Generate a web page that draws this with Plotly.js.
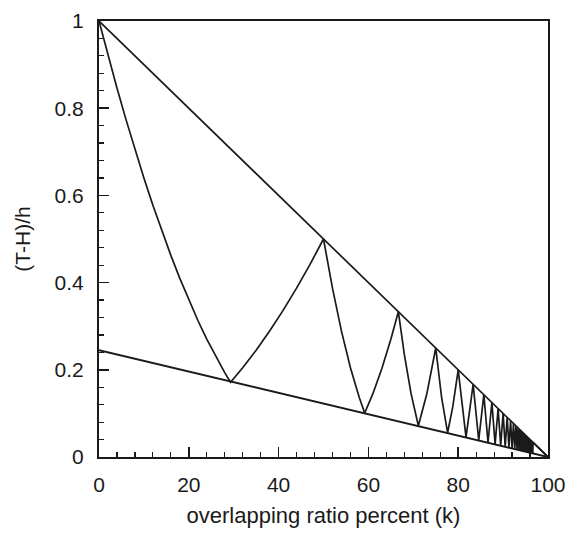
<!DOCTYPE html>
<html>
<head>
<meta charset="utf-8">
<script src="https://cdn.plot.ly/plotly-3.0.1.min.js"></script>
<style>html,body{margin:0;padding:0;background:#fff;}#chart{width:569px;height:534px;}</style>
</head>
<body>
<div id="chart"></div>
<script>
// Upper bound line
const upperK = [0, 100];
const upperF = [1, 0];
// Lower bound line
const lowerK = [0, 100];
const lowerF = [0.245, 0];
// Zigzag curve
const zigK = [0,2,4,6,8,10,12,14,16,18,20,22,24,26,28,29.29,32,35,38,41,44,47,50,52,54,56,58,59.18,61,63,65,66.67,68,69.5,71.13,73,75,76.3,77.64,78.8,80,81.74,83.33,84.57,85.71,86.64,87.5,88.22,88.89,89.46,90,90.47,90.91,91.3,91.67,91.99,92.31,92.59,92.86,93.1,93.33,93.55,93.75,93.94,94.12,94.28,94.44,94.59,94.74,94.87,95,95.12,95.24,95.35,95.45,95.55,95.65,95.74,95.83,95.92,96,96.08,96.15,96.23,96.3,96.36,96.43,96.49,96.55,96.61,96.67,100];
const zigF = [1,0.9216,0.8464,0.7744,0.7056,0.64,0.5776,0.5184,0.4624,0.4096,0.36,0.3136,0.2704,0.2304,0.1936,0.1716,0.2048,0.245,0.2888,0.3362,0.3872,0.4418,0.5,0.3872,0.2888,0.2048,0.1352,0.101,0.1452,0.2028,0.27,0.3333,0.2352,0.1452,0.0718,0.1444,0.25,0.1369,0.0557,0.1155,0.2,0.0456,0.1667,0.0385,0.1429,0.0334,0.125,0.0294,0.1111,0.0263,0.1,0.0238,0.0909,0.0218,0.0833,0.02,0.0769,0.0185,0.0714,0.0172,0.0667,0.0161,0.0625,0.0152,0.0588,0.0143,0.0556,0.0135,0.0526,0.0128,0.05,0.0122,0.0476,0.0116,0.0455,0.0111,0.0435,0.0107,0.0417,0.0102,0.04,0.0098,0.0385,0.0095,0.037,0.0091,0.0357,0.0088,0.0345,0.0085,0.0333,0];

const xTickVals = [0, 20, 40, 60, 80, 100];
const xTickText = ['0', '20', '40', '60', '80', '100'];
const yTickVals = [0, 0.2, 0.4, 0.6, 0.8, 1];
const yTickText = ['0', '0.2', '0.4', '0.6', '0.8', '1'];

const lineStyle = {color: '#1a1a1a', width: 1.7};
const traces = [
  {x: upperK, y: upperF, mode: 'lines', line: lineStyle, hoverinfo: 'none'},
  {x: lowerK, y: lowerF, mode: 'lines', line: {color: '#1a1a1a', width: 2}, hoverinfo: 'none'},
  {x: zigK, y: zigF, mode: 'lines', line: lineStyle, hoverinfo: 'none'}
];

const fam = 'Liberation Sans, Arial, sans-serif';
const layout = {
  width: 569, height: 534,
  margin: {l: 99, r: 21, t: 21, b: 77},
  paper_bgcolor: '#fff', plot_bgcolor: '#fff',
  showlegend: false,
  font: {family: fam, color: '#1a1a1a', size: 21},
  xaxis: {
    range: [0, 100], tickmode: 'array', tickvals: xTickVals, ticktext: xTickText,
    ticks: 'inside', ticklen: 10, tickwidth: 1.5, tickcolor: '#1a1a1a',
    showline: true, linecolor: '#1a1a1a', linewidth: 2, mirror: true,
    showgrid: false, zeroline: false, ticklabelstandoff: 8,
    tickfont: {family: fam, size: 21, color: '#1a1a1a'},
    minor: {dtick: 4, tick0: 0, ticks: 'inside', ticklen: 5, tickwidth: 1.2, tickcolor: '#1a1a1a', showgrid: false},
    title: {text: 'overlapping ratio percent (k)', font: {family: fam, size: 22, color: '#1a1a1a'}, standoff: 12}
  },
  yaxis: {
    range: [0, 1], tickmode: 'array', tickvals: yTickVals, ticktext: yTickText,
    ticks: 'inside', ticklen: 10, tickwidth: 1.5, tickcolor: '#1a1a1a',
    showline: true, linecolor: '#1a1a1a', linewidth: 2, mirror: true,
    showgrid: false, zeroline: false, ticklabelstandoff: 9,
    tickfont: {family: fam, size: 21, color: '#1a1a1a'},
    minor: {dtick: 0.04, tick0: 0, ticks: 'inside', ticklen: 5, tickwidth: 1.2, tickcolor: '#1a1a1a', showgrid: false},
    title: {text: '(T-H)/h', font: {family: fam, size: 21, color: '#1a1a1a'}, standoff: 18}
  }
};

Plotly.newPlot('chart', traces, layout, {staticPlot: true, displayModeBar: false});
</script>
</body>
</html>
